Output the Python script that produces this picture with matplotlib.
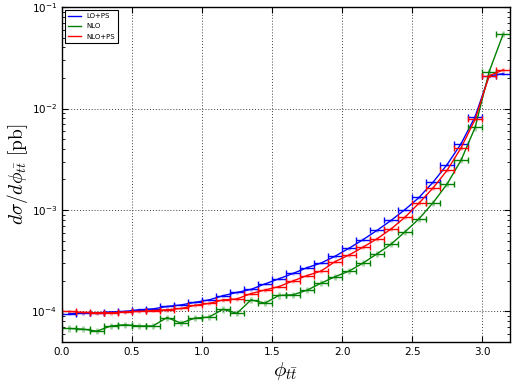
import numpy as np
import matplotlib
matplotlib.use('Agg')
import matplotlib.pyplot as plt

# bin centres of phi_tt (width 0.1)
phi = [0.05, 0.15, 0.25, 0.35, 0.45, 0.55, 0.65, 0.75, 0.85, 0.95,
       1.05, 1.15, 1.25, 1.35, 1.45, 1.55, 1.65, 1.75, 1.85, 1.95,
       2.05, 2.15, 2.25, 2.35, 2.45, 2.55, 2.65, 2.75, 2.85, 2.95,
       3.05, 3.15]

lo_ps = [9.5e-5, 9.6e-5, 9.7e-5, 9.9e-5, 1.0e-4, 1.04e-4, 1.06e-4, 1.12e-4, 1.16e-4, 1.23e-4,
         1.30e-4, 1.43e-4, 1.54e-4, 1.65e-4, 1.87e-4, 2.10e-4, 2.37e-4, 2.70e-4, 3.0e-4, 3.5e-4,
         4.2e-4, 5.1e-4, 6.3e-4, 7.9e-4, 1.01e-3, 1.33e-3, 1.88e-3, 2.8e-3, 4.5e-3, 8.3e-3,
         0.021, 0.022]

nlo = [6.8e-5, 6.7e-5, 6.4e-5, 7.2e-5, 7.4e-5, 7.2e-5, 7.2e-5, 8.7e-5, 7.7e-5, 8.6e-5,
       8.8e-5, 1.05e-4, 9.6e-5, 1.30e-4, 1.21e-4, 1.44e-4, 1.46e-4, 1.62e-4, 1.9e-4, 2.2e-4,
       2.5e-4, 3.0e-4, 3.7e-4, 4.6e-4, 6.1e-4, 8.2e-4, 1.18e-3, 1.8e-3, 3.1e-3, 6.5e-3,
       0.023, 0.054]

nlo_ps = [1.0e-4, 9.8e-5, 9.7e-5, 9.7e-5, 9.9e-5, 1.0e-4, 1.02e-4, 1.04e-4, 1.07e-4, 1.15e-4,
          1.20e-4, 1.30e-4, 1.33e-4, 1.50e-4, 1.63e-4, 1.76e-4, 2.0e-4, 2.26e-4, 2.5e-4, 3.1e-4,
          3.6e-4, 4.3e-4, 5.2e-4, 6.5e-4, 8.5e-4, 1.17e-3, 1.65e-3, 2.46e-3, 4.1e-3, 7.8e-3,
          0.021, 0.024]

# rough relative statistical errors
rel_err = {'LO+PS': 0.03, 'NLO': 0.07, 'NLO+PS': 0.04}

series = [('LO+PS', lo_ps, 'b'), ('NLO', nlo, 'g'), ('NLO+PS', nlo_ps, 'r')]

fig = plt.figure(figsize=(5.2, 3.9), dpi=100)
ax = fig.add_axes([0.119, 0.123, 0.862, 0.859])

x = np.array(phi)
for name, vals, col in series:
    y = np.array(vals)
    ax.plot(x, y, color=col, lw=1.0, label=name)
    ax.errorbar(x, y, yerr=y * rel_err[name], fmt='none', ecolor=col,
                alpha=0.35, elinewidth=2.0, capsize=0)
    ax.errorbar(x, y, xerr=0.05, fmt='none', ecolor=col, elinewidth=1.0,
                capsize=2.5, capthick=1.0)

ax.set_yscale('log')
ax.set_xlim(0, 3.2)
ax.set_ylim(5e-5, 1e-1)
ax.grid(True, which='major', color='0.25', linestyle=(0, (1, 2)), linewidth=0.7)
ax.tick_params(which='both', direction='in', top=True, right=True, labelsize=7.5)
ax.tick_params(which='major', length=4)
ax.tick_params(which='minor', length=2)
for s in ax.spines.values():
    s.set_linewidth(1.0)

ax.set_xlabel(r'$\phi_{t\bar{t}}$', fontsize=15, math_fontfamily='cm', labelpad=2)
ax.set_ylabel(r'$d\sigma/d\phi_{t\bar{t}}\ [\mathrm{pb}]$', fontsize=14,
              math_fontfamily='cm', labelpad=1)

leg = ax.legend(loc='upper left', fontsize=5, handlelength=1.8, fancybox=False,
                framealpha=1, borderpad=0.5, labelspacing=0.6, borderaxespad=0.4)
leg.get_frame().set_edgecolor('k')
leg.get_frame().set_linewidth(0.8)

fig.savefig('out.png', dpi=100)
